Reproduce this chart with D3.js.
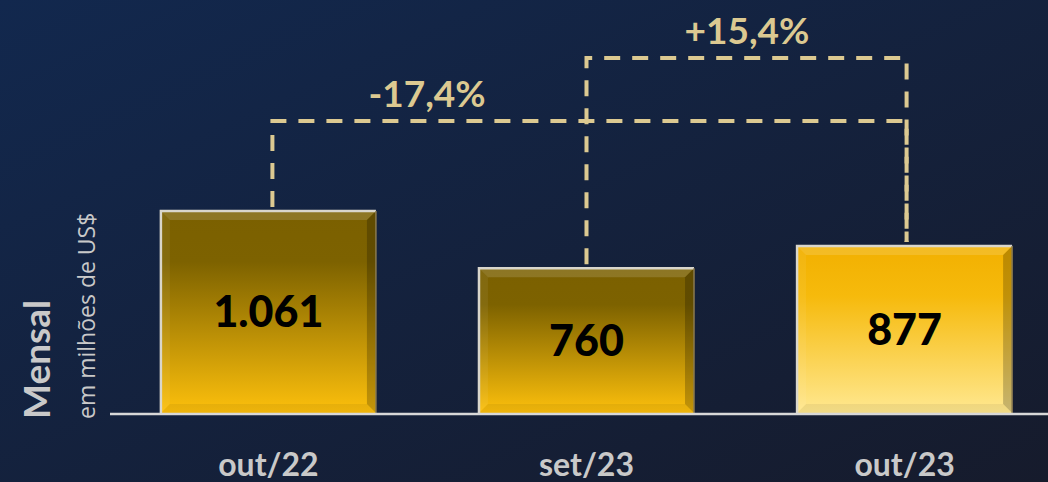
<!DOCTYPE html>
<html>
<head>
<meta charset="utf-8">
<script src="https://cdn.jsdelivr.net/npm/d3@7"></script>
<style>
  html, body { margin: 0; padding: 0; background: #131f3a; }
  svg { display: block; }
</style>
</head>
<body>
<div id="chart"></div>
<script>
// data
const categories = ["out/22", "set/23", "out/23"];
const values = [1061, 760, 877];
const valueLabels = ["1.061", "760", "877"];
const changes = [
  {from: 0, to: 2, label: "-17,4%"},
  {from: 1, to: 2, label: "+15,4%"}
];

const W = 1048, H = 482;
const baseY = 413;
const font = "Lato, 'Open Sans', sans-serif";

const svg = d3.select("#chart").append("svg")
  .attr("width", W).attr("height", H);

const defs = svg.append("defs");

// background gradient
const bg = defs.append("linearGradient").attr("id", "bg")
  .attr("x1", 0).attr("y1", 0).attr("x2", 1).attr("y2", 1);
bg.append("stop").attr("offset", 0).attr("stop-color", "#12284e");
bg.append("stop").attr("offset", 1).attr("stop-color", "#161b2c");
svg.append("rect").attr("width", W).attr("height", H).attr("fill", "url(#bg)");

// bar gradients
const gDark = defs.append("linearGradient").attr("id", "gDark")
  .attr("x1", 0).attr("y1", 0).attr("x2", 0).attr("y2", 1);
gDark.append("stop").attr("offset", 0).attr("stop-color", "#7b6000");
gDark.append("stop").attr("offset", 0.25).attr("stop-color", "#7d6200");
gDark.append("stop").attr("offset", 1).attr("stop-color", "#fdc00c");
const gLight = defs.append("linearGradient").attr("id", "gLight")
  .attr("x1", 0).attr("y1", 0).attr("x2", 0).attr("y2", 1);
gLight.append("stop").attr("offset", 0).attr("stop-color", "#f2b000");
gLight.append("stop").attr("offset", 0.3).attr("stop-color", "#f6ba0c");
gLight.append("stop").attr("offset", 1).attr("stop-color", "#ffe890");
const barFill = ["url(#gDark)", "url(#gDark)", "url(#gLight)"];

// scales
const x = d3.scaleBand()
  .domain(categories)
  .range([110, 1063])
  .paddingInner(0.324)
  .paddingOuter(0.16);

const y = d3.scaleLinear()
  .domain([0, d3.max(values)])
  .range([baseY, 211]);

// bars
const bars = svg.selectAll("g.bar")
  .data(categories)
  .join("g")
    .attr("class", "bar");

bars.each(function(c, i) {
  const g = d3.select(this);
  const x0 = x(c), x1 = x(c) + x.bandwidth();
  const y0 = y(values[i]), y1 = baseY;
  const b = 9;
  g.append("rect")
    .attr("x", x0).attr("y", y0)
    .attr("width", x1 - x0).attr("height", y1 - y0)
    .attr("fill", barFill[i]);
  // bevels
  g.append("path")
    .attr("d", `M${x0},${y0}L${x1},${y0}L${x1 - b},${y0 + b}L${x0 + b},${y0 + b}Z`)
    .attr("fill", "#ffffff").attr("opacity", 0.14);
  g.append("path")
    .attr("d", `M${x0},${y0}L${x0 + b},${y0 + b}L${x0 + b},${y1 - b}L${x0},${y1}Z`)
    .attr("fill", "#ffffff").attr("opacity", 0.06);
  g.append("path")
    .attr("d", `M${x1},${y0}L${x1},${y1}L${x1 - b},${y1 - b}L${x1 - b},${y0 + b}Z`)
    .attr("fill", "#000000").attr("opacity", 0.22);
  g.append("path")
    .attr("d", `M${x0},${y1}L${x1},${y1}L${x1 - b},${y1 - b}L${x0 + b},${y1 - b}Z`)
    .attr("fill", "#000000").attr("opacity", 0.06);
  // outline
  g.append("path")
    .attr("d", `M${x0},${y1}L${x0},${y0}L${x1},${y0}`)
    .attr("fill", "none").attr("stroke", "#d9d6cc").attr("stroke-width", 2.5);
  g.append("path")
    .attr("d", `M${x1},${y0}L${x1},${y1}`)
    .attr("fill", "none").attr("stroke", "#8a7a50").attr("stroke-width", 1.5);
  // value label
  g.append("text")
    .attr("x", (x0 + x1) / 2)
    .attr("y", (y0 + y1) / 2 + 15)
    .attr("text-anchor", "middle")
    .attr("font-family", font)
    .attr("font-weight", 900)
    .attr("font-size", 43)
    .attr("fill", "#000")
    .text(valueLabels[i]);
});

// baseline
svg.append("line")
  .attr("x1", 110).attr("x2", W)
  .attr("y1", baseY + 1).attr("y2", baseY + 1)
  .attr("stroke", "#d8d8d8").attr("stroke-width", 2.5);

// category axis labels
svg.selectAll("text.cat")
  .data(categories)
  .join("text")
    .attr("class", "cat")
    .attr("x", d => x(d) + x.bandwidth() / 2)
    .attr("y", 476)
    .attr("text-anchor", "middle")
    .attr("font-family", font)
    .attr("font-weight", "bold")
    .attr("font-size", 32)
    .attr("fill", "#c9c9c9")
    .text(d => d);

// dashed change brackets
const dashColor = "#dcc991";
const levels = [121, 58];
const startShift = [4, 0];
changes.forEach(function(ch, k) {
  const ly = levels[k];
  const xa = x(categories[ch.from]) + x.bandwidth() / 2 + startShift[k];
  const xb = x(categories[ch.to]) + x.bandwidth() / 2 + 2;
  const path = d3.path();
  path.moveTo(xa, y(values[ch.from]) - 4);
  path.lineTo(xa, ly);
  path.lineTo(xb, ly);
  path.lineTo(xb, y(values[ch.to]) - 4);
  svg.append("path")
    .attr("d", path.toString())
    .attr("fill", "none")
    .attr("stroke", dashColor)
    .attr("stroke-width", 4)
    .attr("stroke-dasharray", "16,12");
  svg.append("text")
    .attr("x", k === 0 ? 427 : 747)
    .attr("y", ly - 14)
    .attr("text-anchor", "middle")
    .attr("font-family", font)
    .attr("font-weight", "bold")
    .attr("font-size", 37)
    .attr("fill", dashColor)
    .text(ch.label);
});

// y title
svg.append("text")
  .attr("transform", `translate(50, 419) rotate(-90)`)
  .attr("font-family", font)
  .attr("font-weight", "bold")
  .attr("font-size", 37)
  .attr("fill", "#c9c9c9")
  .text("Mensal");
svg.append("text")
  .attr("transform", `translate(95, 419) rotate(-90)`)
  .attr("font-family", "'Open Sans', sans-serif")
  .attr("font-size", 23)
  .attr("fill", "#c9c9c9")
  .text("em milhões de US$");
</script>
</body>
</html>
